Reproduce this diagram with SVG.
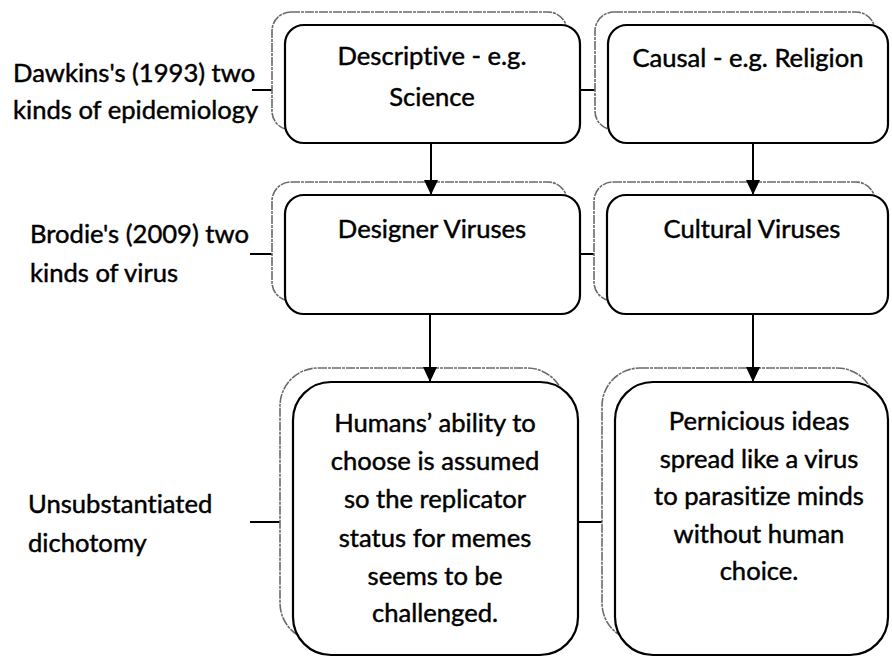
<svg xmlns="http://www.w3.org/2000/svg" width="892" height="657" viewBox="0 0 892 657">
<defs>
<style>
.back{fill:#fff;stroke:#6a6a6a;stroke-width:1.6;stroke-dasharray:9 1 3 1}
.front{fill:#fff;stroke:#000;stroke-width:2.2}
.t{font-family:Lato,"Liberation Sans",sans-serif;font-size:25.6px;fill:#000;stroke:#000;stroke-width:0.45;font-variant-ligatures:none;font-feature-settings:"liga" 0}
.c{text-anchor:middle}
.ln{stroke:#000;stroke-width:2;fill:none}
</style>
<marker id="ah" viewBox="0 0 15 14" refX="15" refY="7" markerWidth="15" markerHeight="14" markerUnits="userSpaceOnUse" orient="auto">
<path d="M0,0 L15,7 L0,14 Z" fill="#000"/>
</marker>
</defs>
<rect width="892" height="657" fill="#fff"/>
<g id="connectors">
<line class="ln" x1="252" y1="90" x2="285" y2="90"/>
<line class="ln" x1="580" y1="90" x2="608" y2="90"/>
<line class="ln" x1="250" y1="254" x2="285" y2="254"/>
<line class="ln" x1="580" y1="254" x2="607" y2="254"/>
<line class="ln" x1="250" y1="522" x2="293" y2="522"/>
<line class="ln" x1="578" y1="522" x2="615" y2="522"/>
</g>
<g id="label-dawkins">
<text class="t" x="13" y="82">Dawkins's (1993) two</text>
<text class="t" x="13" y="119">kinds of epidemiology</text>
</g>
<g id="label-brodie">
<text class="t" x="30" y="243">Brodie's (2009) two</text>
<text class="t" x="30" y="282">kinds of virus</text>
</g>
<g id="label-unsub">
<text class="t" x="28" y="513">Unsubstantiated</text>
<text class="t" x="28" y="552">dichotomy</text>
</g>
<g id="node-descriptive">
<rect class="back" x="272" y="12" width="295" height="118" rx="19"/>
<rect class="front" x="285" y="25" width="295" height="118" rx="19"/>
<text class="t c" x="432" y="65">Descriptive - e.g.</text>
<text class="t c" x="432" y="106">Science</text>
</g>
<g id="node-causal">
<rect class="back" x="595" y="12" width="280" height="118" rx="19"/>
<rect class="front" x="608" y="25" width="280" height="118" rx="19"/>
<text class="t c" x="748" y="67">Causal - e.g. Religion</text>
</g>
<g id="node-designer">
<rect class="back" x="272" y="182" width="295" height="119" rx="19"/>
<rect class="front" x="285" y="195" width="295" height="119" rx="19"/>
<text class="t c" x="432" y="238">Designer Viruses</text>
</g>
<g id="node-cultural">
<rect class="back" x="594" y="182" width="281" height="119" rx="19"/>
<rect class="front" x="607" y="195" width="281" height="119" rx="19"/>
<text class="t c" x="752" y="238">Cultural Viruses</text>
</g>
<g id="node-humans">
<rect class="back" x="280" y="368" width="285" height="273" rx="38"/>
<rect class="front" x="293" y="382" width="285" height="273" rx="38"/>
<text class="t c" x="435" y="432">Humans’ ability to</text>
<text class="t c" x="435" y="470">choose is assumed</text>
<text class="t c" x="435" y="508">so the replicator</text>
<text class="t c" x="435" y="547">status for memes</text>
<text class="t c" x="435" y="585">seems to be</text>
<text class="t c" x="435" y="622">challenged.</text>
</g>
<g id="node-pernicious">
<rect class="back" x="602" y="368" width="273" height="273" rx="38"/>
<rect class="front" x="615" y="382" width="273" height="273" rx="38"/>
<text class="t c" x="759" y="430">Pernicious ideas</text>
<text class="t c" x="759" y="468">spread like a virus</text>
<text class="t c" x="759" y="505">to parasitize minds</text>
<text class="t c" x="759" y="543">without human</text>
<text class="t c" x="759" y="580">choice.</text>
</g>
<g id="arrows">
<line class="ln" x1="431" y1="143" x2="431" y2="195" marker-end="url(#ah)"/>
<line class="ln" x1="753" y1="143" x2="753" y2="195" marker-end="url(#ah)"/>
<line class="ln" x1="430" y1="314" x2="430" y2="382" marker-end="url(#ah)"/>
<line class="ln" x1="753" y1="314" x2="753" y2="382" marker-end="url(#ah)"/>
</g>
</svg>
